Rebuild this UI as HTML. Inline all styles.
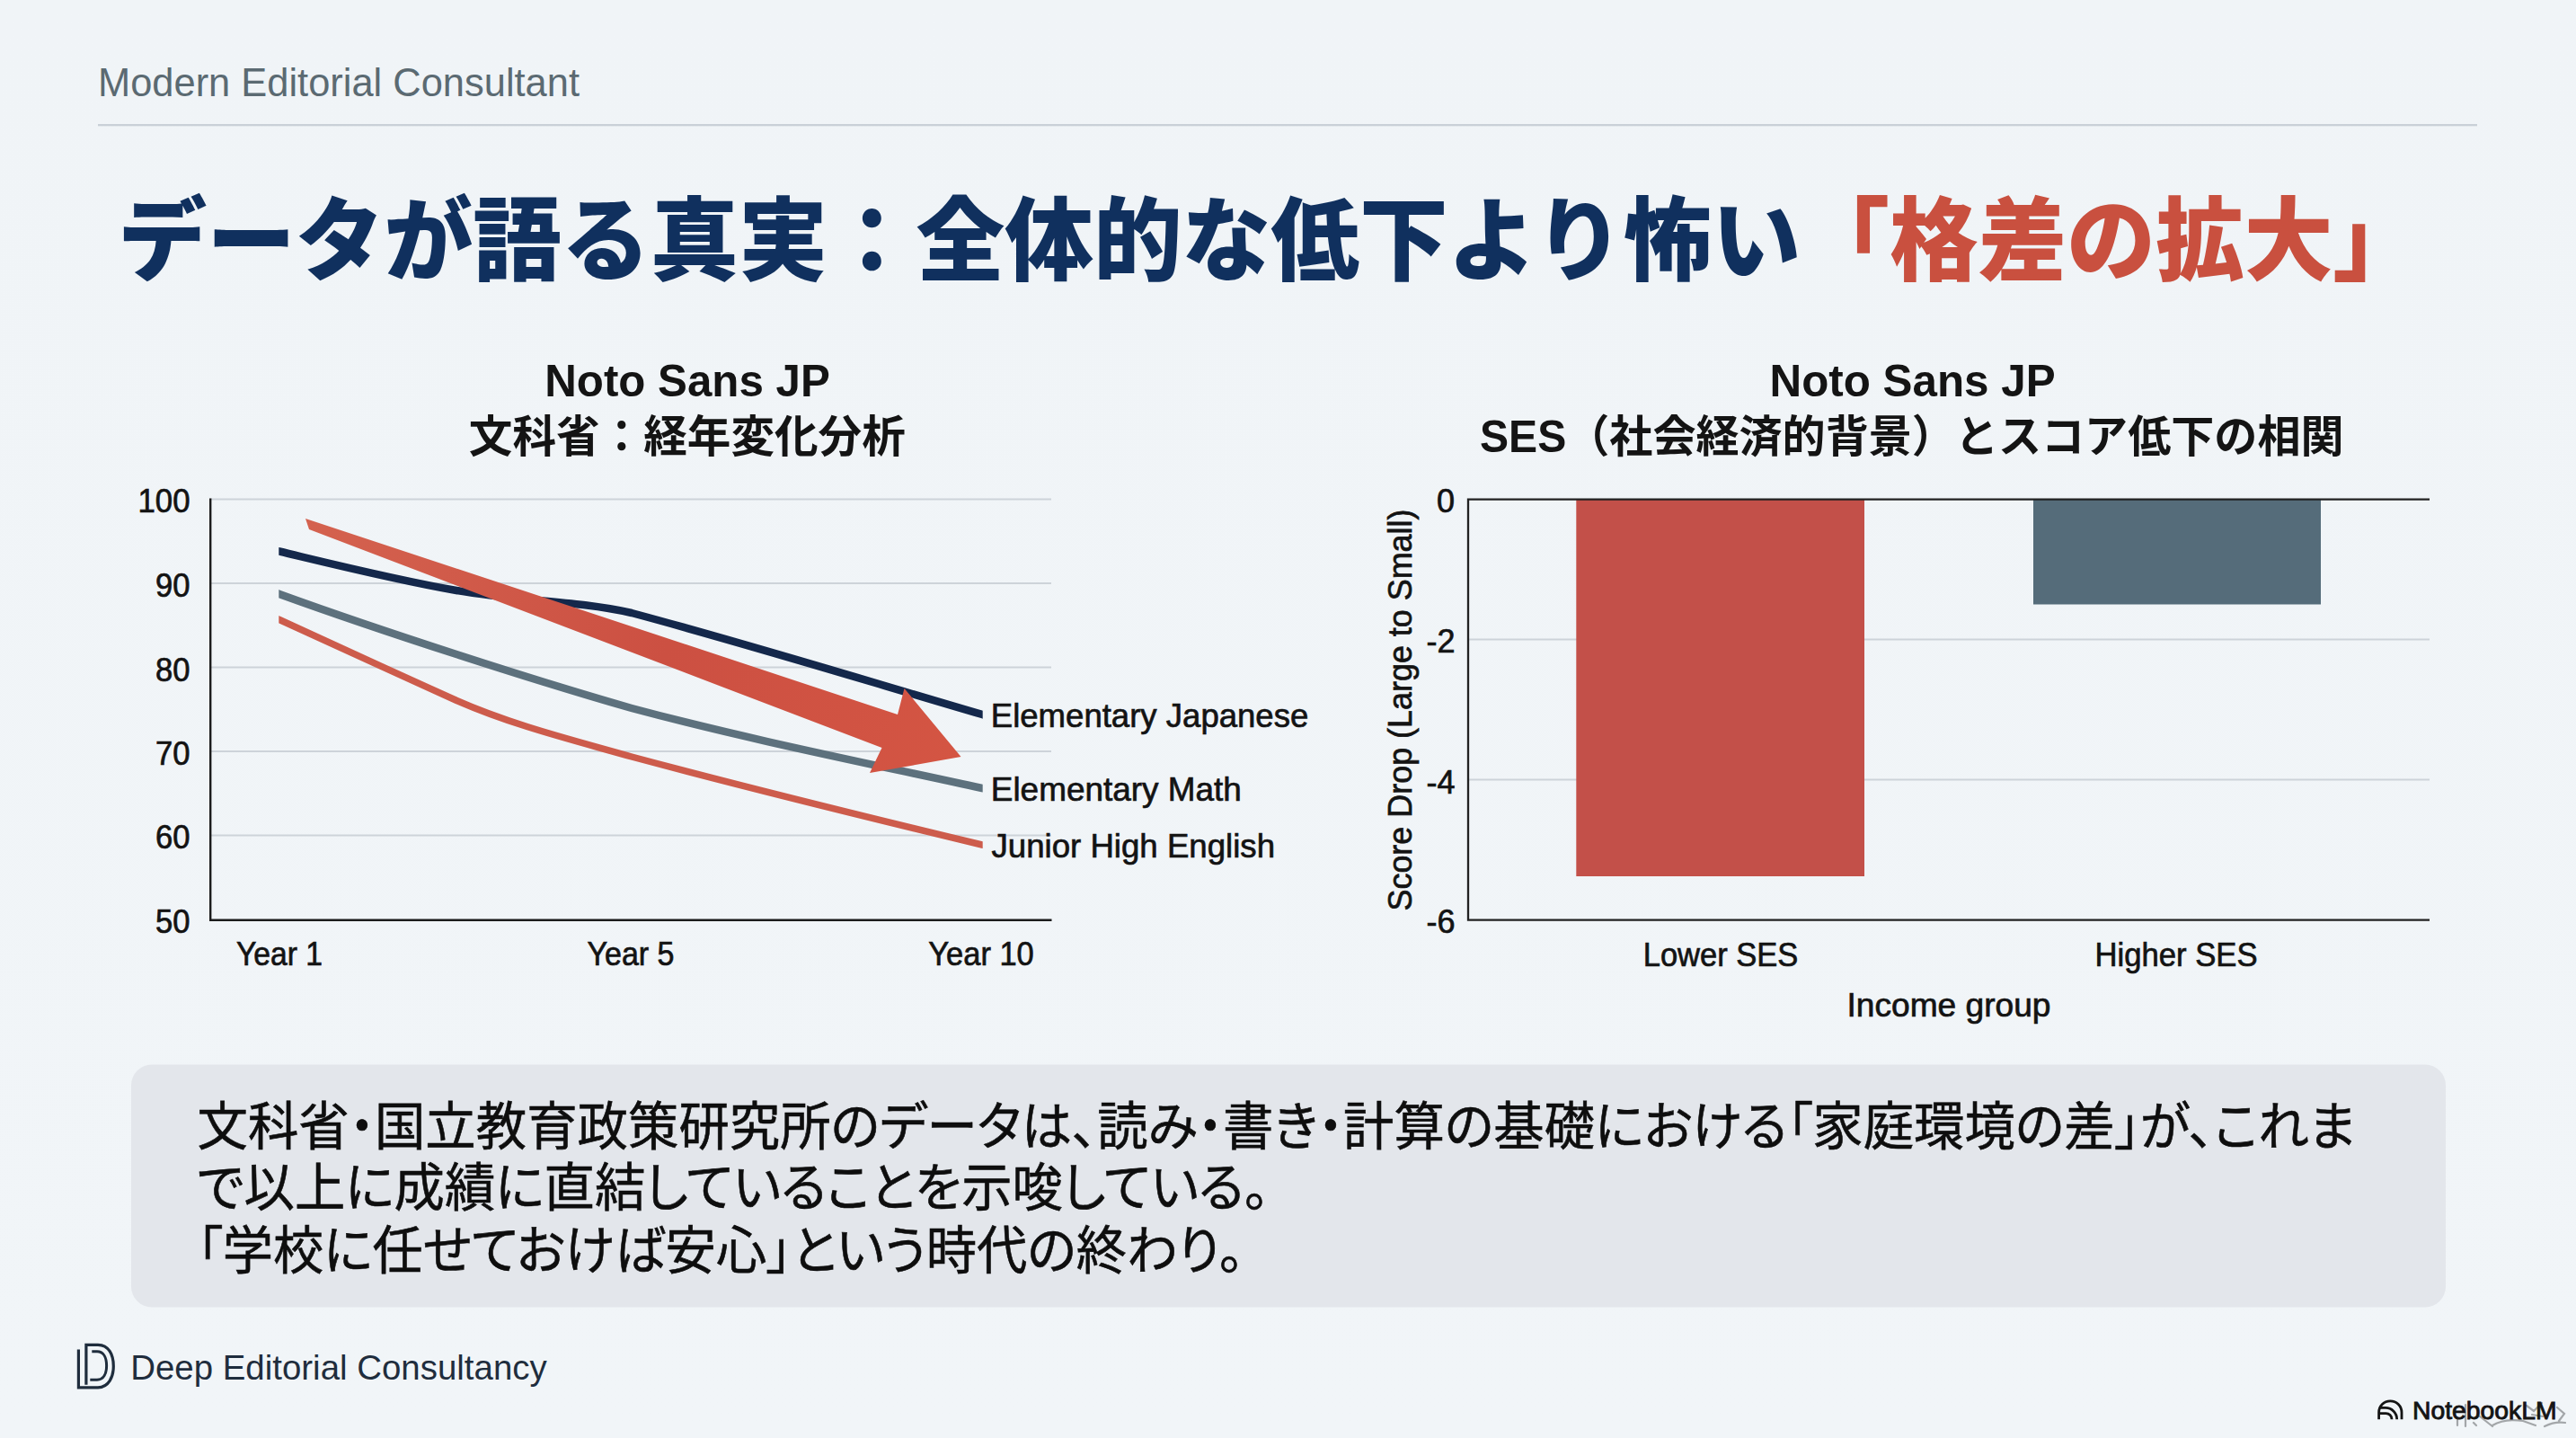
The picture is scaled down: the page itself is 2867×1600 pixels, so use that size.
<!DOCTYPE html>
<html lang="ja">
<head>
<meta charset="utf-8">
<title>データが語る真実：全体的な低下より怖い「格差の拡大」</title>
<style>
html,body{margin:0;padding:0;background:#f0f4f7;}
body{width:2867px;height:1600px;overflow:hidden;}
svg{display:block;}
text{font-family:"Liberation Sans","Noto Sans CJK JP",sans-serif;}
.ttl{font-weight:900;font-size:101.6px;}
.ct{font-weight:700;fill:#141414;}
.ax{fill:#131313;font-size:36px;stroke:#131313;stroke-width:0.7px;}
.body{font-size:58.5px;fill:#0e0e0e;stroke:#0e0e0e;stroke-width:0.6px;font-feature-settings:"palt" 1;}
</style>
</head>
<body>
<svg width="2867" height="1600" viewBox="0 0 2867 1600">
<defs>
<linearGradient id="bg" x1="0" y1="0" x2="0" y2="1">
<stop offset="0" stop-color="#f0f4f7"/><stop offset="1" stop-color="#f1f5f8"/>
</linearGradient>
<linearGradient id="ag" gradientUnits="userSpaceOnUse" x1="340" y1="580" x2="1070" y2="842">
<stop offset="0" stop-color="#d4624f"/><stop offset="0.55" stop-color="#cc5042"/><stop offset="1" stop-color="#d45543"/>
</linearGradient>
</defs>
<rect width="2867" height="1600" fill="url(#bg)"/>

<!-- header -->
<text x="109" y="106.5" font-size="43.5" fill="#5b6a72" textLength="536" lengthAdjust="spacingAndGlyphs">Modern Editorial Consultant</text>
<rect x="109" y="138" width="2648" height="2.3" fill="#c9d0d7"/>
<!-- title -->
<text class="ttl" x="131.5" y="304" fill="#10305e" textLength="2563.5" lengthAdjust="spacingAndGlyphs">データが語る真実：全体的な低下より怖い<tspan fill="#c9503f">「格差の拡大」</tspan></text>
<!-- left chart -->
<text x="765" y="440.8" class="ct" font-size="49.5" text-anchor="middle" textLength="317.5" lengthAdjust="spacingAndGlyphs">Noto Sans JP</text>
<text x="764.8" y="503" class="ct" font-size="49.4" text-anchor="middle" textLength="486" lengthAdjust="spacingAndGlyphs">文科省：経年変化分析</text>
<g stroke="#cdd3d9" stroke-width="2">
<line x1="234" y1="555.5" x2="1170" y2="555.5"/>
<line x1="234" y1="649" x2="1170" y2="649"/>
<line x1="234" y1="742.5" x2="1170" y2="742.5"/>
<line x1="234" y1="836" x2="1170" y2="836"/>
<line x1="234" y1="929.5" x2="1170" y2="929.5"/>
</g>
<path d="M234.2 554.5V1023.8H1170.5" fill="none" stroke="#1c1c1c" stroke-width="2.4"/>
<g class="ax" text-anchor="end">
<text x="211.5" y="570" textLength="58" lengthAdjust="spacingAndGlyphs">100</text>
<text x="211.5" y="664" textLength="38.5" lengthAdjust="spacingAndGlyphs">90</text>
<text x="211.5" y="758" textLength="38.5" lengthAdjust="spacingAndGlyphs">80</text>
<text x="211.5" y="850.5" textLength="38.5" lengthAdjust="spacingAndGlyphs">70</text>
<text x="211.5" y="944" textLength="38.5" lengthAdjust="spacingAndGlyphs">60</text>
<text x="211.5" y="1038" textLength="38.5" lengthAdjust="spacingAndGlyphs">50</text>
</g>
<g class="ax" text-anchor="middle">
<text x="311" y="1074" textLength="96" lengthAdjust="spacingAndGlyphs">Year 1</text>
<text x="702" y="1074" textLength="97" lengthAdjust="spacingAndGlyphs">Year 5</text>
<text x="1092" y="1074" textLength="117.5" lengthAdjust="spacingAndGlyphs">Year 10</text>
</g>
<!-- series -->
<clipPath id="pc"><rect x="310.3" y="540" width="783.4" height="480"/></clipPath>
<g clip-path="url(#pc)" stroke-linecap="square">
<path d="M311 613.5 C 380 630, 440 645, 508 657 S 640 668, 703 682 C 830 716, 960 756, 1093 795" fill="none" stroke="#14284b" stroke-width="8.5"/>
<path d="M311 661 C 380 686, 440 706, 508 728 S 640 770, 703 788 C 830 822, 960 848, 1093 877" fill="none" stroke="#5d717d" stroke-width="8.5"/>
<path d="M311 689.5 C 376 719, 440 749, 505 778 S 640 824, 703 842 C 830 876, 960 908, 1093 940" fill="none" stroke="#cd5c4c" stroke-width="7.5"/>
</g>
<!-- big arrow -->
<path d="M340 577 L999 795 L1006.5 766 L1069.5 842 L968 860 L981.5 832 L344 589 Z" fill="url(#ag)"/>
<g class="ax">
<text x="1102.8" y="808.5" font-size="37.6" textLength="353.5" lengthAdjust="spacingAndGlyphs">Elementary Japanese</text>
<text x="1102.8" y="890.6" font-size="37.6" textLength="279" lengthAdjust="spacingAndGlyphs">Elementary Math</text>
<text x="1103.5" y="953.6" font-size="37.6" textLength="315.5" lengthAdjust="spacingAndGlyphs">Junior High English</text>
</g>
<!-- right chart -->
<text x="2128.6" y="440.8" class="ct" font-size="49.5" text-anchor="middle" textLength="318" lengthAdjust="spacingAndGlyphs">Noto Sans JP</text>
<text x="2127.8" y="503" class="ct" font-size="49.4" text-anchor="middle" textLength="961.5" lengthAdjust="spacingAndGlyphs">SES（社会経済的背景）とスコア低下の相関</text>
<g stroke="#cdd3d9" stroke-width="2">
<line x1="1634" y1="711.5" x2="2704" y2="711.5"/>
<line x1="1634" y1="867.5" x2="2704" y2="867.5"/>
</g>
<rect x="1754.3" y="555" width="320.7" height="420" fill="#c35049"/>
<rect x="2263" y="555" width="320" height="117.5" fill="#556c7a"/>
<path d="M2704 555.6H1634V1023.7H2704" fill="none" stroke="#222" stroke-width="2.3"/>
<g class="ax" text-anchor="end">
<text x="1619" y="570">0</text>
<text x="1619.5" y="726">-2</text>
<text x="1619.5" y="882.5">-4</text>
<text x="1619.5" y="1038">-6</text>
</g>
<text class="ax" font-size="38" transform="translate(1571 790) rotate(-90)" text-anchor="middle" textLength="447" lengthAdjust="spacingAndGlyphs">Score Drop (Large to Small)</text>
<g class="ax" text-anchor="middle">
<text x="1915" y="1074.5" textLength="172.5" lengthAdjust="spacingAndGlyphs">Lower SES</text>
<text x="2422" y="1074.5" textLength="181" lengthAdjust="spacingAndGlyphs">Higher SES</text>
<text x="2169" y="1131" textLength="227" lengthAdjust="spacingAndGlyphs">Income group</text>
</g>
<!-- callout box -->
<rect x="146" y="1184.5" width="2576" height="270" rx="23" fill="#e3e6eb"/>
<text x="219.5" y="1274" class="body" textLength="2402" lengthAdjust="spacingAndGlyphs">文科省・国立教育政策研究所のデータは、読み・書き・計算の基礎における「家庭環境の差」が、これま</text>
<text x="219.5" y="1342" class="body" textLength="1193" lengthAdjust="spacingAndGlyphs">で以上に成績に直結していることを示唆している。</text>
<text x="219.5" y="1412" class="body" textLength="1165" lengthAdjust="spacingAndGlyphs">「学校に任せておけば安心」という時代の終わり。</text>
<!-- footer -->
<g fill="none" stroke="#1f2d3d" stroke-width="3.2" stroke-linejoin="miter">
<path d="M87.4 1501.5V1543.8H109C121 1543.8 126.3 1532 126.3 1520C126.3 1507.5 121 1496.3 109 1496.3H95.9V1540.8"/>
<path d="M102.3 1503.7H108C115.5 1503.7 118.6 1511 118.6 1519.5C118.6 1528 115.5 1535.3 108 1535.3H100.3" stroke-width="3"/>
</g>
<text x="145.2" y="1534.6" font-size="39.6" fill="#1f2d3d" textLength="463.5" lengthAdjust="spacingAndGlyphs">Deep Editorial Consultancy</text>
<g fill="none" stroke="#151515" stroke-width="2.8">
<path d="M2647.6 1579.2V1571.5A12.7 12.7 0 0 1 2673 1571.5V1579.2"/>
<path d="M2648.6 1566.4H2655A12.7 12.7 0 0 1 2667.7 1579.2"/>
<path d="M2648.6 1572.6H2655.5A6.5 6.5 0 0 1 2662 1579.2"/>
</g>
<g fill="none" stroke="#9a9da0" stroke-width="2.2" stroke-linecap="round" opacity="0.9">
<path d="M2735 1579V1586M2744 1563V1587M2753 1583l3 3M2760 1576l14 11M2774 1586c10-6 22-7 34-5l14 5M2812 1564l8 6 9-9M2818 1574l12 2M2832 1587c8-4 16-5 23-4M2846 1566l8 7-6 8"/>
</g>
<text x="2685" y="1579" font-size="28" fill="#141414" textLength="160.5" lengthAdjust="spacingAndGlyphs" stroke="#141414" stroke-width="0.9">NotebookLM</text>
</svg>
</body>
</html>
